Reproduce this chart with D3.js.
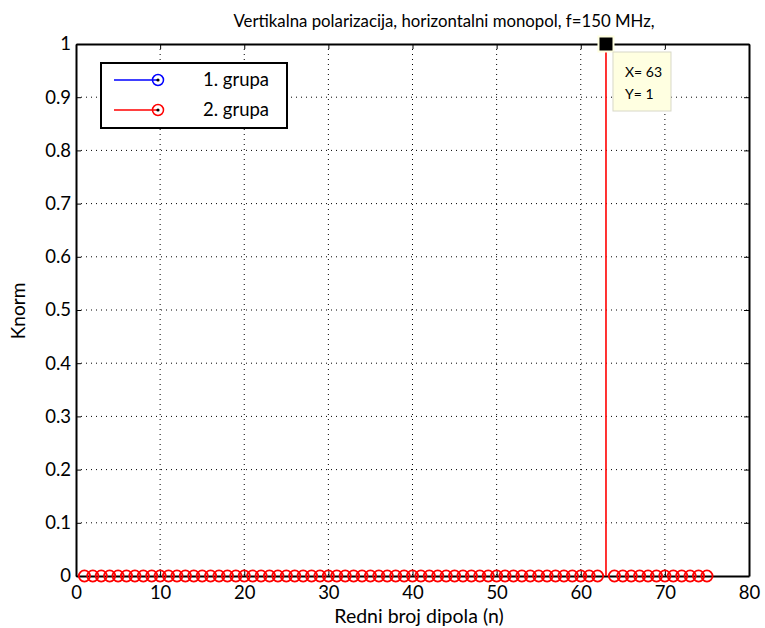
<!DOCTYPE html>
<html><head><meta charset="utf-8">
<script src="https://cdn.jsdelivr.net/npm/d3@7"></script>
<style>body{margin:0;background:#fff;}svg{display:block;font-family:Lato,"Open Sans",sans-serif;}</style>
</head><body>
<script>
const titleText = "Vertikalna polarizacija, horizontalni monopol, f=150 MHz,";
const xLabel = "Redni broj dipola (n)";
const yLabel = "Knorm";
const xTicks = [0,10,20,30,40,50,60,70,80];
const yTicks = [0,0.1,0.2,0.3,0.4,0.5,0.6,0.7,0.8,0.9,1];
const yTickLabels = ["0","0.1","0.2","0.3","0.4","0.5","0.6","0.7","0.8","0.9","1"];
const group1N = [];
const group1K = [];
const group2N = [1,2,3,4,5,6,7,8,9,10,11,12,13,14,15,16,17,18,19,20,21,22,23,24,25,26,27,28,29,30,31,32,33,34,35,36,37,38,39,40,41,42,43,44,45,46,47,48,49,50,51,52,53,54,55,56,57,58,59,60,61,62,63,64,65,66,67,68,69,70,71,72,73,74,75];
const group2K = [0,0,0,0,0,0,0,0,0,0,0,0,0,0,0,0,0,0,0,0,0,0,0,0,0,0,0,0,0,0,0,0,0,0,0,0,0,0,0,0,0,0,0,0,0,0,0,0,0,0,0,0,0,0,0,0,0,0,0,0,0,0,1,0,0,0,0,0,0,0,0,0,0,0,0];
const legendNames = ["1. grupa","2. grupa"];
const legendColors = ["#0000ff","#ff0000"];
const tipX = 63, tipY = 1;

const W=765,H=628;
const L=76,R=749,T=44,B=576;
const svg=d3.select("body").append("svg").attr("width",W).attr("height",H);
const x=d3.scaleLinear().domain([0,80]).range([L,R]);
const y=d3.scaleLinear().domain([0,1]).range([B,T]);

// grid
const g=svg.append("g");
xTicks.slice(1,-1).forEach(t=>g.append("line").attr("x1",x(t)).attr("x2",x(t)).attr("y1",T).attr("y2",B)
  .attr("stroke","#000").attr("stroke-width",1).attr("stroke-dasharray","1,4"));
yTicks.slice(1,-1).forEach(t=>g.append("line").attr("x1",L).attr("x2",R).attr("y1",y(t)).attr("y2",y(t))
  .attr("stroke","#000").attr("stroke-width",1).attr("stroke-dasharray","1,4"));

// axes
const xa=svg.append("g").attr("transform",`translate(0,${B})`)
  .call(d3.axisBottom(x).tickValues(xTicks).tickSizeInner(-5).tickSizeOuter(0).tickPadding(10));
const xaTop=svg.append("g").attr("transform",`translate(0,${T})`)
  .call(d3.axisTop(x).tickValues(xTicks).tickSizeInner(-5).tickSizeOuter(0).tickFormat(""));
const ya=svg.append("g").attr("transform",`translate(${L},0)`)
  .call(d3.axisLeft(y).tickValues(yTicks).tickFormat((d,i)=>yTickLabels[i]).tickSizeInner(-5).tickSizeOuter(0).tickPadding(5));
const yaR=svg.append("g").attr("transform",`translate(${R},0)`)
  .call(d3.axisRight(y).tickValues(yTicks).tickSizeInner(-5).tickSizeOuter(0).tickFormat(""));
[xa,xaTop,ya,yaR].forEach(a=>{
  a.select(".domain").attr("stroke","#000").attr("stroke-width",2);
  a.selectAll(".tick line").attr("stroke","#000").attr("stroke-width",1);
  a.selectAll("text").attr("font-size",18.5).attr("fill","#000").attr("font-family","Lato, 'Open Sans', sans-serif");
});

// stems
function stems(N,K,color){
  const sg=svg.append("g");
  N.forEach((n,i)=>{
    if(K[i]!==0) sg.append("line").attr("x1",x(n)).attr("x2",x(n)).attr("y1",y(0)).attr("y2",y(K[i]))
      .attr("stroke",color).attr("stroke-width",1.6);
  });
  N.forEach((n,i)=>{
    if(n===tipX && K[i]===tipY) return;
    sg.append("circle").attr("cx",x(n)).attr("cy",y(K[i])).attr("r",5.6)
      .attr("fill","none").attr("stroke",color).attr("stroke-width",1.8);
  });
}
stems(group1N,group1K,legendColors[0]);
stems(group2N,group2K,legendColors[1]);

// data tip
const tx=x(tipX), ty=y(tipY);
svg.append("rect").attr("x",tx-7.5).attr("y",ty-7.5).attr("width",15).attr("height",15)
  .attr("fill","#000").attr("stroke","#ffffe1").attr("stroke-width",2);
svg.append("rect").attr("x",tx+7).attr("y",ty+8).attr("width",58).attr("height",59)
  .attr("fill","#ffffe1").attr("stroke","#d8d8c8").attr("stroke-width",1);
svg.append("text").attr("x",tx+19).attr("y",ty+33).attr("font-size",14).text("X= "+tipX);
svg.append("text").attr("x",tx+19).attr("y",ty+55).attr("font-size",14).text("Y= "+tipY);

// legend
const lg=svg.append("g");
lg.append("rect").attr("x",101).attr("y",63).attr("width",186).attr("height",65)
  .attr("fill","#fff").attr("stroke","#000").attr("stroke-width",2);
legendNames.forEach((nm,i)=>{
  const yy=80+i*30;
  lg.append("line").attr("x1",114).attr("x2",158).attr("y1",yy).attr("y2",yy).attr("stroke",legendColors[i]).attr("stroke-width",1.5);
  lg.append("circle").attr("cx",158).attr("cy",yy).attr("r",5.5).attr("fill","none").attr("stroke",legendColors[i]).attr("stroke-width",1.5);
  lg.append("circle").attr("cx",158).attr("cy",yy).attr("r",1.6).attr("fill","#000");
  lg.append("text").attr("x",203).attr("y",yy+6).attr("font-size",18.5).text(nm);
});

// labels
svg.append("text").attr("x",444).attr("y",27).attr("text-anchor","middle").attr("font-size",16.8).text(titleText);
svg.append("text").attr("x",419).attr("y",623).attr("text-anchor","middle").attr("font-size",19.5).text(xLabel);
svg.append("text").attr("transform","translate(25,311) rotate(-90)").attr("text-anchor","middle").attr("font-size",19).text(yLabel);
</script>
</body></html>
